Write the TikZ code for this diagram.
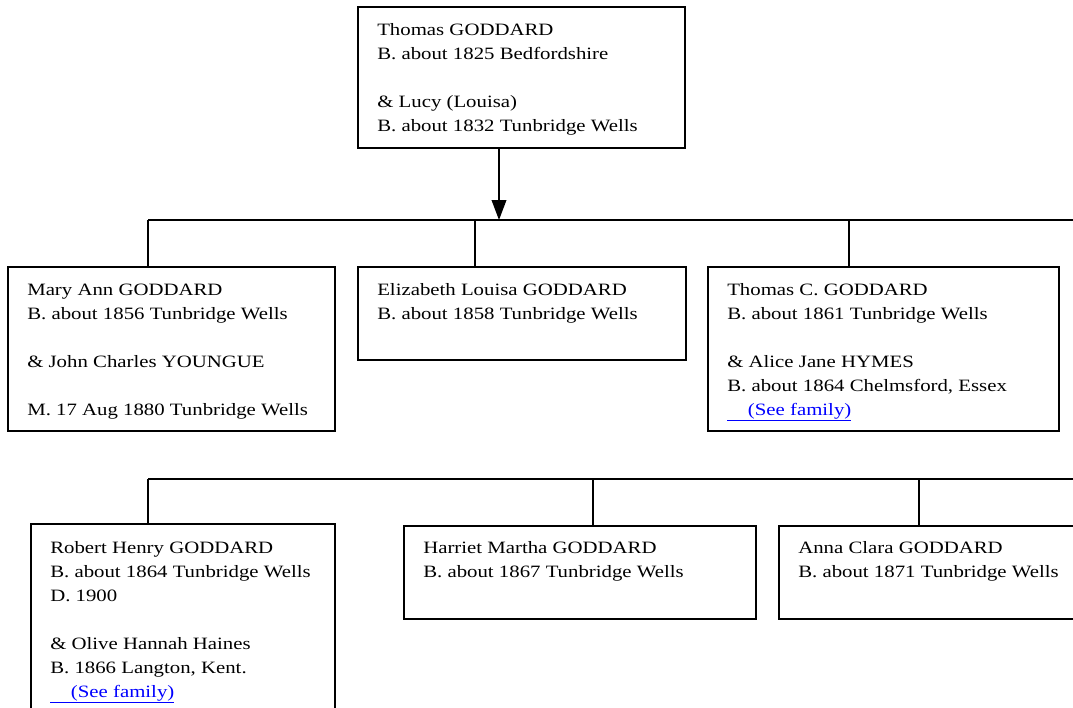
\documentclass[tikz,border=0pt]{standalone}
\usepackage{fontspec}
\setmainfont[FakeStretch=1.2]{Liberation Serif}
\usepackage{tikz}
\usetikzlibrary{arrows.meta, positioning, fit, calc}
\definecolor{linkblue}{RGB}{0, 0, 255}

\newcommand{\seefamily}{\textcolor{linkblue}{\underline{\hspace*{15.5pt}(See family)}}}

\begin{document}
\begin{tikzpicture}[
          x=0.75pt, y=-0.75pt,
          person/.style={rectangle, draw=black, line width=1.5pt, inner sep=0pt},
          info/.style={anchor=north west, inner sep=0pt, align=left, font=\fontsize{13pt}{18pt}\selectfont},
          conn/.style={line width=1.2pt},
          arrow/.style={line width=1.2pt, -{Triangle[length=15pt, width=11pt]}}
        ]
          \useasboundingbox (0,0) rectangle (1073,707);
          \clip (0,0) rectangle (1073,707);

          % Parents
          \node[person, fit={(358,7) (685,148)}] (parents) {};
          \node[info] (parentsinfo) at ($(parents.north west)+(20,12)$) {\strut Thomas GODDARD\\ B. about 1825 Bedfordshire\\[18pt] \& Lucy (Louisa)\\ B. about 1832 Tunbridge Wells};

          % First row of children
          \node[person, fit={(8,267) (335,431)}] (maryann) {};
          \node[person, fit={(358,267) (686,360)}] (elizabeth) {};
          \node[person, fit={(708,267) (1059,431)}] (thomasc) {};

          \node[info] (maryanninfo) at ($(maryann.north west)+(20,12)$) {\strut Mary Ann GODDARD\\ B. about 1856 Tunbridge Wells\\[18pt] \& John Charles YOUNGUE\\[18pt] M. 17 Aug 1880 Tunbridge Wells};
          \node[info] (elizabethinfo) at ($(elizabeth.north west)+(20,12)$) {\strut Elizabeth Louisa GODDARD\\ B. about 1858 Tunbridge Wells};
          \node[info] (thomascinfo) at ($(thomasc.north west)+(20,12)$) {\strut Thomas C. GODDARD\\ B. about 1861 Tunbridge Wells\\[18pt] \& Alice Jane HYMES\\ B. about 1864 Chelmsford, Essex\\ \seefamily};

          % Second row of children
          \node[person, fit={(31,524) (335,760)}] (robert) {};
          \node[person, fit={(404,526) (756,619)}] (harriet) {};
          \node[person, fit={(779,526) (1100,619)}] (anna) {};

          \node[info] (robertinfo) at ($(robert.north west)+(20,13)$) {\strut Robert Henry GODDARD\\ B. about 1864 Tunbridge Wells\\ D. 1900\\[18pt] \& Olive Hannah Haines\\ B. 1866 Langton, Kent.\\ \seefamily};
          \node[info] (harrietinfo) at ($(harriet.north west)+(20,11)$) {\strut Harriet Martha GODDARD\\ B. about 1867 Tunbridge Wells};
          \node[info] (annainfo) at ($(anna.north west)+(20,11)$) {\strut Anna Clara GODDARD\\ B. about 1871 Tunbridge Wells};

          % Junctions on the bars
          \coordinate (bara) at (148,220);
          \coordinate (barb) at (475,220);
          \coordinate (barc) at (849,220);
          \coordinate (barend) at (1090,220);
          \coordinate (down) at (499,220);

          \coordinate (bard) at (148,479);
          \coordinate (bare) at (593,479);
          \coordinate (barf) at (919,479);
          \coordinate (bar2end) at (1090,479);

          % Connections
          \draw[arrow] (down |- parents.south) -- (down);
          \draw[conn] (bara) -- (barend);
          \draw[conn] (bara) -- (bara |- maryann.north);
          \draw[conn] (barb) -- (barb |- elizabeth.north);
          \draw[conn] (barc) -- (barc |- thomasc.north);

          \draw[conn] (bard) -- (bar2end);
          \draw[conn] (bard) -- (bard |- robert.north);
          \draw[conn] (bare) -- (bare |- harriet.north);
          \draw[conn] (barf) -- (barf |- anna.north);
        \end{tikzpicture}
\end{document}
